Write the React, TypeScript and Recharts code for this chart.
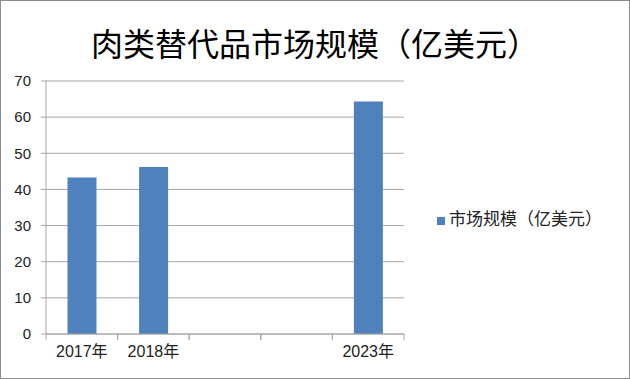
import { BarChart, Bar, XAxis, YAxis, CartesianGrid, Legend } from "recharts";

const years = ["2017年", "2018年", "", "", "2023年"];
const marketSize = [43.3, 46.2, null, null, 64.3];
const yTicks = [0, 10, 20, 30, 40, 50, 60, 70];
const seriesName = "市场规模（亿美元）";
const title = "肉类替代品市场规模（亿美元）";

const data = years.map((year, i) => ({ year, value: marketSize[i] }));

const FONT = "'Liberation Sans', 'Noto Sans CJK SC', sans-serif";
const PLOT_W = 358;
const HALF_BAND = PLOT_W / years.length / 2;

function CategoryTick(props: any) {
  const { x, y, payload } = props;
  const half = HALF_BAND;
  return (
    <g>
      <line x1={x - half} y1={y - 12} x2={x - half} y2={y - 6} stroke="#a6a6a6" />
      <line x1={x + half} y1={y - 12} x2={x + half} y2={y - 6} stroke="#a6a6a6" />
      <text
        x={x}
        y={y}
        dy="0.71em"
        textAnchor="middle"
        fill="#222"
        fontSize={16}
        fontFamily={FONT}
      >
        {payload.value}
      </text>
    </g>
  );
}

export default function App() {
  return (
    <div
      style={{
        position: "fixed",
        left: 0,
        top: 0,
        width: 630,
        height: 379,
        border: "1px solid #8c8c8c",
        boxSizing: "border-box",
        background: "#fff",
        fontFamily: FONT,
      }}
    >
      <div
        style={{
          position: "absolute",
          left: 0,
          top: 20,
          width: 628,
          textAlign: "center",
          fontSize: 32,
          lineHeight: "42px",
          color: "#000",
          fontFamily: "'Noto Sans CJK SC', sans-serif",
        }}
      >
        {title}
      </div>
      <BarChart
        width={628}
        height={377}
        data={data}
        margin={{ top: 80, right: 225, left: 0, bottom: 14 }}
        barCategoryGap="30%"
      >
        <CartesianGrid vertical={false} stroke="#a6a6a6" />
        <XAxis
          dataKey="year"
          height={30}
          tickLine={false}
          tickSize={6}
          tickMargin={6}
          axisLine={{ stroke: "#a6a6a6" }}
          tick={<CategoryTick />}
          interval={0}
        />
        <YAxis
          width={45}
          domain={[0, 70]}
          ticks={yTicks}
          tickSize={5}
          tickMargin={10}
          axisLine={{ stroke: "#a6a6a6" }}
          tickLine={{ stroke: "#a6a6a6" }}
          tick={{ fill: "#222", fontSize: 15, fontFamily: FONT }}
        />
        <Legend
          layout="vertical"
          verticalAlign="middle"
          align="center"
          iconType="square"
          iconSize={8}
          wrapperStyle={{ left: 436, top: 204, width: 190 }}
          formatter={(v) => (
            <span style={{ color: "#222", fontSize: 17, fontFamily: "'Noto Sans CJK SC', sans-serif" }}>{v}</span>
          )}
        />
        <Bar dataKey="value" name={seriesName} fill="#4f81bd" isAnimationActive={false} />
      </BarChart>
    </div>
  );
}
